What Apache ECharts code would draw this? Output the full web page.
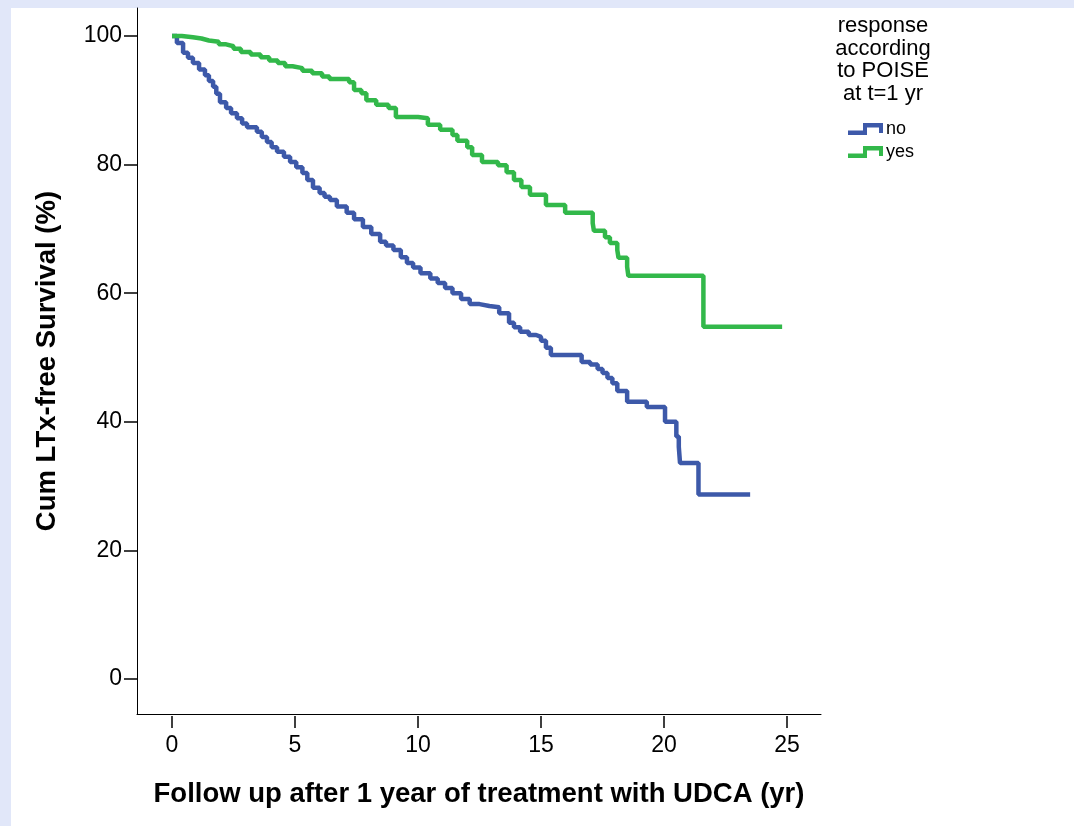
<!DOCTYPE html>
<html>
<head>
<meta charset="utf-8">
<script src="https://cdn.jsdelivr.net/npm/echarts@6/dist/echarts.min.js"></script>
<style>
html,body{margin:0;padding:0;background:#fff;}
#chart{width:1074px;height:826px;}
</style>
</head>
<body>
<div id="chart"></div>
<script>
// ---- data ----
var xTicks = [0, 5, 10, 15, 20, 25];
var yTicks = [0, 20, 40, 60, 80, 100];

var noTimes = [0,0.2,0.45,0.65,0.85,1.1,1.34,1.5,1.67,1.8,1.95,2.2,2.4,2.64,2.85,3.05,3.45,3.65,3.86,4.05,4.27,4.55,4.8,5.05,5.3,5.5,5.73,6.0,6.2,6.42,6.7,7.1,7.4,7.76,8.1,8.46,8.7,9.0,9.3,9.55,9.8,10.1,10.5,10.8,11.1,11.4,11.75,12.1,12.5,12.9,13.3,13.7,13.9,14.15,14.5,14.8,15.0,15.2,15.4,16.65,17.0,17.3,17.5,17.7,17.9,18.1,18.5,19.3,20.04,20.5,20.6,20.65,21.4,23.5];
var noSurv  = [100,98.9,97.4,96.6,95.8,94.8,93.9,93.0,92.1,91.0,89.7,88.8,88.0,87.2,86.4,85.8,85.1,84.3,83.5,82.7,82.0,81.2,80.4,79.6,78.7,77.6,76.4,75.6,75.0,74.5,73.5,72.5,71.5,70.3,69.2,68.0,67.4,66.7,65.6,64.7,64.0,63.1,62.3,61.6,60.8,60.0,59.1,58.3,58.0,57.8,56.9,55.4,54.7,54.0,53.5,53.2,52.6,51.5,50.4,49.3,48.9,48.2,47.6,46.8,46.0,44.8,43.1,42.3,40.0,37.7,36.1,33.6,28.7,28.7];

var yesTimes = [0,0.4,0.85,1.2,1.5,1.9,2.2,2.5,2.8,3.2,3.6,3.95,4.3,4.6,4.9,5.3,5.7,6.1,6.4,7.2,7.4,7.7,7.9,8.3,8.8,9.1,10.0,10.4,10.9,11.4,11.6,12.0,12.2,12.6,13.25,13.6,13.9,14.2,14.55,15.2,15.98,17.1,17.15,17.6,17.8,18.1,18.15,18.5,18.55,21.6,24.8];
var yesSurv  = [100,99.8,99.6,99.3,99.1,98.7,98.4,98.0,97.5,97.1,96.7,96.2,95.8,95.3,95.0,94.6,94.2,93.7,93.3,92.8,91.6,91.1,90.0,89.3,88.8,87.4,87.2,86.2,85.4,84.6,83.7,82.7,81.5,80.4,79.9,78.8,77.6,76.5,75.3,73.7,72.5,70.9,69.7,68.7,67.8,66.7,65.5,64.1,62.7,54.8,54.8];

var seriesNames = ['no', 'yes'];
var legendTitle = 'response\naccording\nto POISE\nat t=1 yr';
var xTitle = 'Follow up after 1 year of treatment with UDCA (yr)';
var yTitle = 'Cum LTx-free Survival (%)';

function pairs(t, v) { return t.map(function (x, i) { return [x, v[i]]; }); }

var FONT = '"Liberation Sans", Arial, sans-serif';
var stepIcon = 'path://M0,7.5 L15,7.5 L15,0 L35,0 L35,10 L31,10 L31,4.5 L19,4.5 L19,12 L0,12 Z';

var chart = echarts.init(document.getElementById('chart'), null, {renderer: 'canvas'});
var xMin = -1.423, xMax = 26.38, yMin = -5.44, yMax = 104.35;

chart.setOption({
  animation: false,
  backgroundColor: '#ffffff',
  textStyle: {fontFamily: FONT},
  graphic: [
    {type: 'rect', left: 0, top: 0, shape: {width: 1074, height: 8}, style: {fill: '#e1e7f9'}, z: -10},
    {type: 'rect', left: 0, top: 0, shape: {width: 11, height: 826}, style: {fill: '#e1e7f9'}, z: -10},
    {type: 'text', left: 833, top: 15, style: {text: legendTitle, fill: '#000', font: '22px ' + FONT, textAlign: 'center', lineHeight: 22.5, width: 100}}
  ],
  grid: {left: 137, top: 8, right: 253, bottom: 112},
  legend: {
    orient: 'vertical', left: 848, top: 120,
    itemWidth: 35, itemHeight: 12, itemGap: 5, padding: 0,
    icon: stepIcon,
    textStyle: {fontSize: 18, color: '#000', fontFamily: FONT, lineHeight: 18, padding: [0, 0, 0, -2]},
    data: seriesNames
  },
  xAxis: [
    {type: 'value', min: xMin, max: xMax, position: 'bottom',
     axisLine: {show: true, onZero: false, lineStyle: {color: '#000', width: 1}},
     axisTick: {show: false}, axisLabel: {show: false}, splitLine: {show: false}},
    {type: 'value', min: xMin, max: xMax, position: 'bottom', offset: 2,
     axisLine: {show: false, onZero: false},
     axisTick: {show: true, length: 12, customValues: xTicks, lineStyle: {color: '#000', width: 1.5}},
     axisLabel: {show: true, customValues: xTicks, fontSize: 23, color: '#000', margin: 18, fontFamily: FONT},
     splitLine: {show: false},
     name: xTitle, nameLocation: 'middle', nameGap: 64,
     nameTextStyle: {fontSize: 27.5, fontWeight: 'bold', color: '#000', fontFamily: FONT}}
  ],
  yAxis: {
    type: 'value', min: yMin, max: yMax,
    axisLine: {show: true, onZero: false, lineStyle: {color: '#000', width: 1}},
    axisTick: {show: true, length: 13, customValues: yTicks, lineStyle: {color: '#000', width: 1.5}},
    axisLabel: {show: true, customValues: yTicks, fontSize: 23, color: '#000', margin: 15, fontFamily: FONT},
    splitLine: {show: false},
    name: yTitle, nameLocation: 'middle', nameGap: 76,
    nameTextStyle: {fontSize: 27.5, fontWeight: 'bold', color: '#000', fontFamily: FONT}
  },
  series: [
    {name: seriesNames[0], type: 'line', step: 'end', xAxisIndex: 0, showSymbol: false,
     color: '#3d59a9', lineStyle: {width: 4.5, color: '#3d59a9'}, itemStyle: {color: '#3d59a9'},
     data: pairs(noTimes, noSurv)},
    {name: seriesNames[1], type: 'line', step: 'end', xAxisIndex: 0, showSymbol: false,
     color: '#32b84a', lineStyle: {width: 4.5, color: '#32b84a'}, itemStyle: {color: '#32b84a'},
     data: pairs(yesTimes, yesSurv)}
  ]
});
</script>
</body>
</html>
